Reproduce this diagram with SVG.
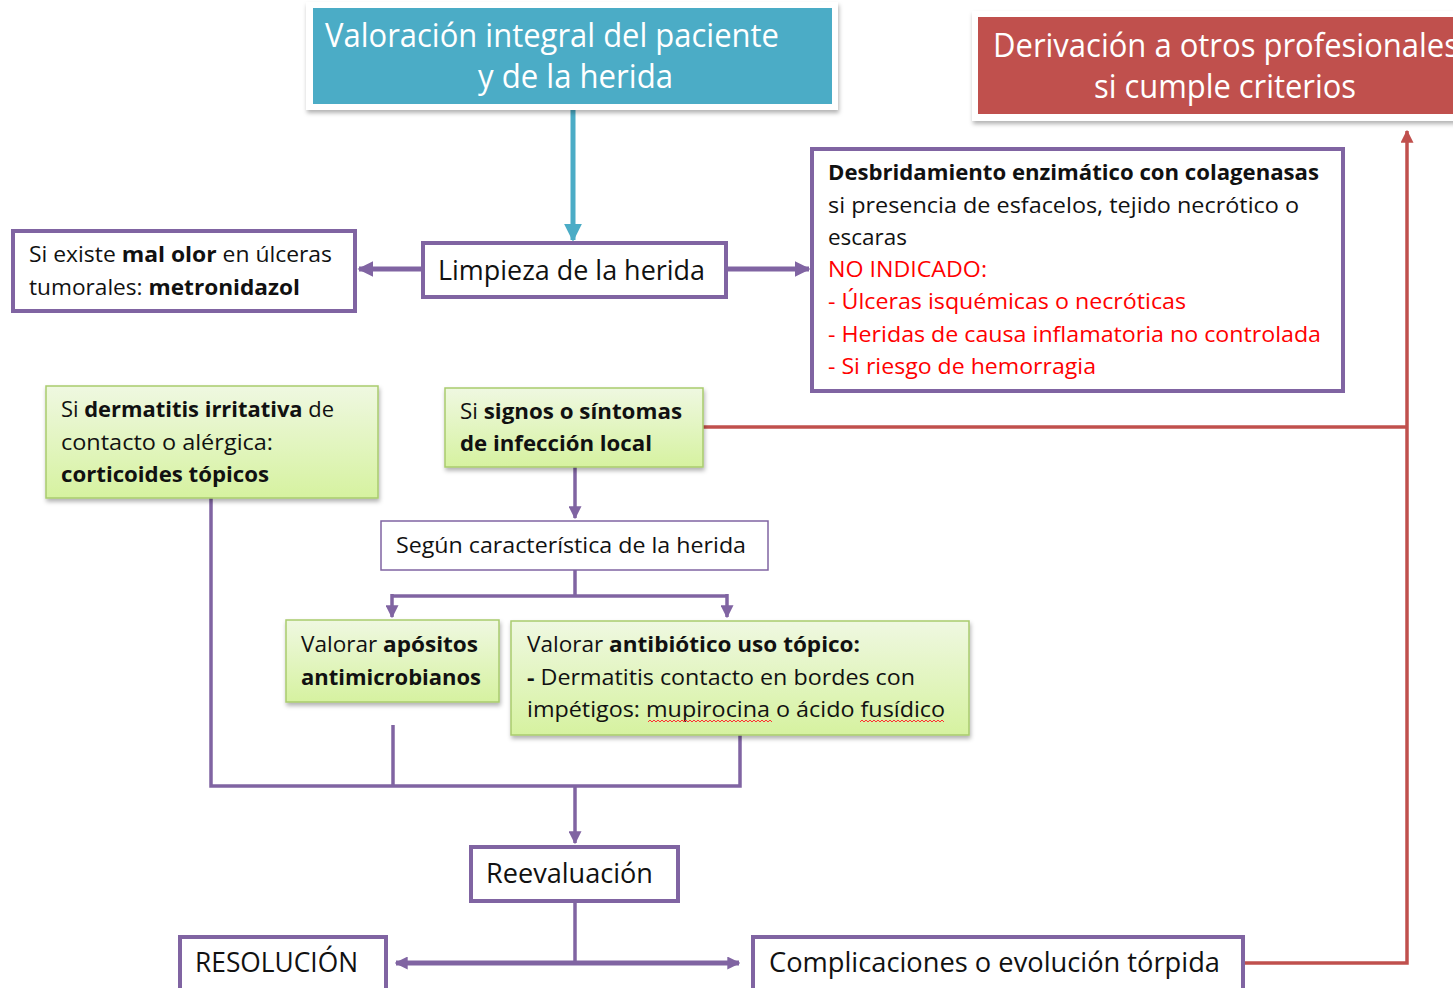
<svg xmlns="http://www.w3.org/2000/svg" width="1453" height="988" viewBox="0 0 1453 988">
<defs>
<linearGradient id="gg" x1="0" y1="0" x2="0" y2="1">
<stop offset="0" stop-color="#EFF8E1"/>
<stop offset="1" stop-color="#D6F2A0"/>
</linearGradient>
<filter id="sh" x="-5%" y="-10%" width="110%" height="130%">
<feDropShadow dx="1" dy="3" stdDeviation="2" flood-color="#000" flood-opacity="0.3"/>
</filter>
<marker id="ap" viewBox="0 0 10 10" refX="9" refY="5" markerWidth="16" markerHeight="16" markerUnits="userSpaceOnUse" orient="auto"><path d="M0,0 L10,5 L0,10 z" fill="#8064A2"/></marker>
<marker id="aps" viewBox="0 0 10 10" refX="9" refY="5" markerWidth="13" markerHeight="13" markerUnits="userSpaceOnUse" orient="auto"><path d="M0,0 L10,5 L0,10 z" fill="#8064A2"/></marker>
<marker id="ab" viewBox="0 0 10 10" refX="9" refY="5" markerWidth="18" markerHeight="18" markerUnits="userSpaceOnUse" orient="auto"><path d="M0,0 L10,5 L0,10 z" fill="#4BACC6"/></marker>
<marker id="ar" viewBox="0 0 10 10" refX="9" refY="5" markerWidth="13" markerHeight="13" markerUnits="userSpaceOnUse" orient="auto"><path d="M0,0 L10,5 L0,10 z" fill="#C0504D"/></marker>
</defs>
<style>
text{font-family:"Open Sans","Noto Sans","Liberation Sans",sans-serif;fill:#111;}
.t22{font-size:22px;}
.t28{font-size:28px;}
.h{font-size:32px;fill:#fff;}
.b{font-weight:bold;}
.red{fill:#FF0000;}
.box{fill:#fff;stroke:#8064A2;stroke-width:4;}
.thin{fill:#fff;stroke:#8064A2;stroke-width:1.5;}
.gbox{fill:url(#gg);stroke:#A9CB6E;stroke-width:1.5;filter:url(#sh);}
.pl{fill:none;stroke:#8064A2;stroke-width:3.5;}
.plt{fill:none;stroke:#8064A2;stroke-width:5;}
.rl{fill:none;stroke:#C0504D;stroke-width:3.5;}
.wav{fill:none;stroke:#FF3030;stroke-width:1;}
</style>
<rect width="1453" height="988" fill="#fff"/>

<g id="connectors">
<line x1="573" y1="108" x2="573" y2="240" stroke="#4BACC6" stroke-width="5" marker-end="url(#ab)"/>
<line x1="423" y1="269" x2="359" y2="269" class="plt" marker-end="url(#ap)"/>
<line x1="726" y1="269" x2="809" y2="269" class="plt" marker-end="url(#ap)"/>
<polyline points="703,427 1407,427" class="rl"/>
<polyline points="1243,963 1407,963 1407,131" class="rl" marker-end="url(#ar)"/>
<line x1="575" y1="467" x2="575" y2="518" class="pl" marker-end="url(#aps)"/>
<polyline points="575,570 575,596" class="pl"/>
<polyline points="392,596 727,596" class="pl"/>
<line x1="392" y1="594" x2="392" y2="617" class="pl" marker-end="url(#aps)"/>
<line x1="727" y1="594" x2="727" y2="617" class="pl" marker-end="url(#aps)"/>
<polyline points="211,498 211,786 740,786 740,735" class="pl"/>
<line x1="393" y1="725" x2="393" y2="786" class="pl"/>
<line x1="575" y1="786" x2="575" y2="843" class="pl" marker-end="url(#aps)"/>
<line x1="575" y1="901" x2="575" y2="963" class="pl"/>
<line x1="575" y1="963" x2="396" y2="963" class="plt" marker-end="url(#aps)"/>
<line x1="575" y1="963" x2="739" y2="963" class="plt" marker-end="url(#aps)"/>
</g>

<g id="valoracion">
<rect x="306" y="2" width="532" height="108" fill="#fff" filter="url(#sh)"/>
<rect x="313" y="8" width="519" height="96" fill="#4BACC6"/>
<text class="h" x="325" y="47" textLength="454" lengthAdjust="spacingAndGlyphs">Valoración integral del paciente</text>
<text class="h" x="478" y="88" textLength="195" lengthAdjust="spacingAndGlyphs">y de la herida</text>
</g>

<g id="derivacion">
<rect x="972" y="11" width="490" height="110" fill="#fff" filter="url(#sh)"/>
<rect x="978" y="17" width="480" height="97" fill="#C0504D"/>
<text class="h" x="993" y="57" textLength="466" lengthAdjust="spacingAndGlyphs">Derivación a otros profesionales</text>
<text class="h" x="1094" y="98" textLength="262" lengthAdjust="spacingAndGlyphs">si cumple criterios</text>
</g>

<g id="limpieza">
<rect class="box" x="423" y="243" width="303" height="54"/>
<text class="t28" x="438" y="280" textLength="267" lengthAdjust="spacingAndGlyphs">Limpieza de la herida</text>
</g>

<g id="metronidazol">
<rect class="box" x="13" y="231" width="342" height="80"/>
<text class="t22" x="29" y="262" textLength="303" lengthAdjust="spacingAndGlyphs">Si existe <tspan class="b">mal olor</tspan> en úlceras</text>
<text class="t22" x="29" y="295" textLength="271" lengthAdjust="spacingAndGlyphs">tumorales: <tspan class="b">metronidazol</tspan></text>
</g>

<g id="desbridamiento">
<rect class="box" x="812" y="149" width="531" height="242"/>
<text class="t22 b" x="828" y="180" textLength="491" lengthAdjust="spacingAndGlyphs">Desbridamiento enzimático con colagenasas</text>
<text class="t22" x="828" y="213" textLength="471" lengthAdjust="spacingAndGlyphs">si presencia de esfacelos, tejido necrótico o</text>
<text class="t22" x="828" y="245" textLength="79" lengthAdjust="spacingAndGlyphs">escaras</text>
<text class="t22 red" x="828" y="277" textLength="159" lengthAdjust="spacingAndGlyphs">NO INDICADO:</text>
<text class="t22 red" x="828" y="309" textLength="358" lengthAdjust="spacingAndGlyphs">- Úlceras isquémicas o necróticas</text>
<text class="t22 red" x="828" y="342" textLength="493" lengthAdjust="spacingAndGlyphs">- Heridas de causa inflamatoria no controlada</text>
<text class="t22 red" x="828" y="374" textLength="268" lengthAdjust="spacingAndGlyphs">- Si riesgo de hemorragia</text>
</g>

<g id="dermatitis">
<rect class="gbox" x="46" y="386" width="332" height="112"/>
<text class="t22" x="61" y="417" textLength="273" lengthAdjust="spacingAndGlyphs">Si <tspan class="b">dermatitis irritativa</tspan> de</text>
<text class="t22" x="61" y="450" textLength="212" lengthAdjust="spacingAndGlyphs">contacto o alérgica:</text>
<text class="t22 b" x="61" y="482" textLength="208" lengthAdjust="spacingAndGlyphs">corticoides tópicos</text>
</g>

<g id="infeccion">
<rect class="gbox" x="445" y="388" width="258" height="79"/>
<text class="t22" x="460" y="419" textLength="222" lengthAdjust="spacingAndGlyphs">Si <tspan class="b">signos o síntomas</tspan></text>
<text class="t22 b" x="460" y="451" textLength="192" lengthAdjust="spacingAndGlyphs">de infección local</text>
</g>

<g id="segun">
<rect class="thin" x="381" y="521" width="387" height="49"/>
<text class="t22" x="396" y="553" textLength="350" lengthAdjust="spacingAndGlyphs">Según característica de la herida</text>
</g>

<g id="apositos">
<rect class="gbox" x="286" y="620" width="213" height="82"/>
<text class="t22" x="301" y="652" textLength="177" lengthAdjust="spacingAndGlyphs">Valorar <tspan class="b">apósitos</tspan></text>
<text class="t22 b" x="301" y="685" textLength="180" lengthAdjust="spacingAndGlyphs">antimicrobianos</text>
</g>

<g id="antibiotico">
<rect class="gbox" x="511" y="621" width="458" height="114"/>
<text class="t22" x="527" y="652" textLength="333" lengthAdjust="spacingAndGlyphs">Valorar <tspan class="b">antibiótico uso tópico:</tspan></text>
<text class="t22" x="527" y="685" textLength="388" lengthAdjust="spacingAndGlyphs"><tspan class="b">-</tspan> Dermatitis contacto en bordes con</text>
<text class="t22" x="527" y="717" textLength="418" lengthAdjust="spacingAndGlyphs">impétigos: mupirocina o ácido fusídico</text>
<path class="wav" d="M648,722 l2,-2 l2,2 l2,-2 l2,2 l2,-2 l2,2 l2,-2 l2,2 l2,-2 l2,2 l2,-2 l2,2 l2,-2 l2,2 l2,-2 l2,2 l2,-2 l2,2 l2,-2 l2,2 l2,-2 l2,2 l2,-2 l2,2 l2,-2 l2,2 l2,-2 l2,2 l2,-2 l2,2 l2,-2 l2,2 l2,-2 l2,2 l2,-2 l2,2 l2,-2 l2,2 l2,-2 l2,2 l2,-2 l2,2 l2,-2 l2,2 l2,-2 l2,2 l2,-2 l2,2 l2,-2 l2,2 l2,-2 l2,2 l2,-2 l2,2 l2,-2 l2,2 l2,-2 l2,2 l2,-2 l2,2 l2,-2 l2,2"/>
<path class="wav" d="M860,722 l2,-2 l2,2 l2,-2 l2,2 l2,-2 l2,2 l2,-2 l2,2 l2,-2 l2,2 l2,-2 l2,2 l2,-2 l2,2 l2,-2 l2,2 l2,-2 l2,2 l2,-2 l2,2 l2,-2 l2,2 l2,-2 l2,2 l2,-2 l2,2 l2,-2 l2,2 l2,-2 l2,2 l2,-2 l2,2 l2,-2 l2,2 l2,-2 l2,2 l2,-2 l2,2 l2,-2 l2,2 l2,-2 l2,2"/>
</g>

<g id="reevaluacion">
<rect class="box" x="471" y="847" width="207" height="54"/>
<text class="t28" x="486" y="883" textLength="167" lengthAdjust="spacingAndGlyphs">Reevaluación</text>
</g>

<g id="resolucion">
<rect class="box" x="180" y="937" width="206" height="60"/>
<text class="t28" x="195" y="972" textLength="163" lengthAdjust="spacingAndGlyphs">RESOLUCIÓN</text>
</g>

<g id="complicaciones">
<rect class="box" x="753" y="937" width="490" height="60"/>
<text class="t28" x="769" y="972" textLength="451" lengthAdjust="spacingAndGlyphs">Complicaciones o evolución tórpida</text>
</g>
</svg>
